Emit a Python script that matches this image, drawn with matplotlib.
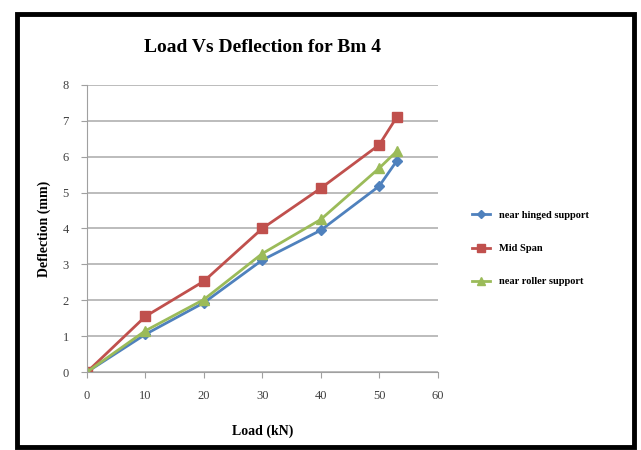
import matplotlib.pyplot as plt
from matplotlib.patches import Rectangle

# values
load = [0, 10, 20, 30, 40, 50, 53]
hinged = [0, 1.05, 1.93, 3.12, 3.95, 5.18, 5.88]
mid_span = [0, 1.55, 2.53, 4.0, 5.12, 6.33, 7.1]
roller = [0, 1.15, 2.02, 3.3, 4.25, 5.68, 6.15]
labels = ["near hinged support", "Mid Span", "near roller support"]

plt.rcParams['font.family'] = ['Liberation Serif', 'DejaVu Serif']

fig = plt.figure(figsize=(6.41, 4.5), dpi=100)
ax = fig.add_axes([0.1357, 0.1733, 0.547, 0.638])

ax.plot(load, hinged, color='#4F81BD', marker='D', markersize=5, lw=2, label=labels[0])
ax.plot(load, mid_span, color='#C0504D', marker='s', markersize=7, lw=2, label=labels[1])
ax.plot(load, roller, color='#9BBB59', marker='^', markersize=7, lw=2, label=labels[2])

ax.set_xlim(0, 60)
ax.set_ylim(0, 8)
ax.set_xticks(range(0, 61, 10))
ax.set_yticks(range(0, 9))
ax.grid(axis='y', color='#b0b0b0', lw=1.2)
ax.set_axisbelow(True)
for s in ['top', 'right']:
    ax.spines[s].set_visible(False)
for s in ['left', 'bottom']:
    ax.spines[s].set_color('#a0a0a0')
ax.tick_params(axis='both', colors='#a0a0a0', labelcolor='#404040', labelsize=9, length=4)
ax.tick_params(axis='x', pad=9)
ax.tick_params(axis='y', pad=9)

ax.set_title("Load Vs Deflection for Bm 4", fontsize=14, fontweight='bold', pad=24)
ax.set_xlabel("Load (kN)", fontsize=10, fontweight='bold', labelpad=16)
ax.set_ylabel("Deflection (mm)", fontsize=10, fontweight='bold', labelpad=8)

leg = ax.legend(loc='center left', bbox_to_anchor=(1.07, 0.43), frameon=False,
                prop={'weight': 'bold', 'size': 7.5}, handlelength=1.8,
                labelspacing=2.3, markerscale=0.8)

fig.patches.append(Rectangle((17 / 641, 1 - 447 / 450), 617 / 641, 433 / 450,
                             transform=fig.transFigure, fill=False, lw=3.5,
                             edgecolor='black'))

fig.savefig("out.png", dpi=100)
